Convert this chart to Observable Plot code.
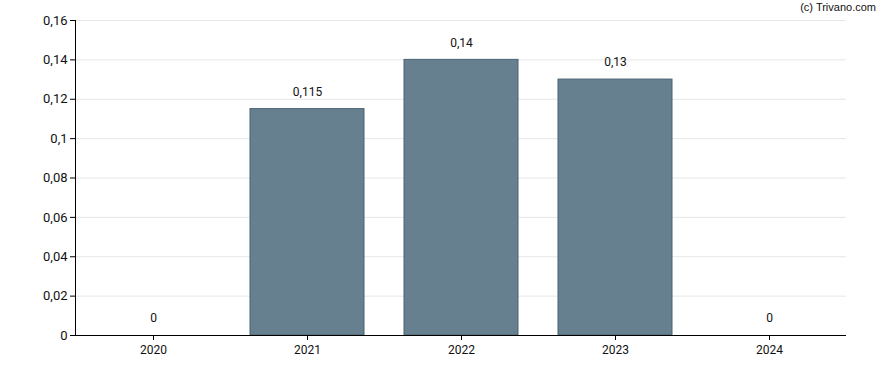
<!DOCTYPE html>
<html>
<head>
<meta charset="utf-8">
<script src="https://cdn.jsdelivr.net/npm/d3@7"></script>
<script src="https://cdn.jsdelivr.net/npm/@observablehq/plot@0.6"></script>
<style>
  html, body { margin: 0; padding: 0; background: #fff; }
  #wrap { position: relative; width: 888px; height: 370px; }
  #credit { position: absolute; right: 12px; top: 1px; font: 11px "Liberation Sans", Arial, sans-serif; color: #111; }
</style>
</head>
<body>
<div id="wrap"><div id="credit">(c) Trivano.com</div></div>
<script>
const years = ["2020", "2021", "2022", "2023", "2024"];
const dividends = [0, 0.115, 0.14, 0.13, 0];
const yTicks = [0, 0.02, 0.04, 0.06, 0.08, 0.1, 0.12, 0.14, 0.16];

const data = years.map((y, i) => ({year: y, value: dividends[i]}));
const fmt = d => String(d).replace(".", ",");

const chart = Plot.plot({
  width: 888,
  height: 370,
  marginLeft: 75,
  marginRight: 42,
  marginTop: 20,
  marginBottom: 35,
  style: {fontFamily: "Roboto, sans-serif", fontSize: "12px", color: "#111", background: "#fff"},
  x: {domain: years, paddingInner: 0.26, paddingOuter: 0.13, label: null},
  y: {domain: [0, 0.16], label: null},
  marks: [
    Plot.gridY(yTicks, {stroke: "#e6e6e6", strokeOpacity: 1}),
    Plot.barY(data, {x: "year", y: "value", fill: "#66808f", stroke: "#4b6373", strokeWidth: 1}),
    Plot.text(data, {x: "year", y: "value", text: d => fmt(d.value), dy: -17, fill: "#111", fontSize: 12}),
    Plot.axisY(yTicks, {tickFormat: fmt, tickSize: 5, tickPadding: 3, fontSize: 13, stroke: "#000", strokeOpacity: 1}),
    Plot.axisX({tickSize: 5, tickPadding: 5, fontSize: 12, stroke: "#000", strokeOpacity: 1}),
    Plot.ruleY([0], {stroke: "#000"}),
    Plot.frame({anchor: "left", stroke: "#000"})
  ]
});
document.getElementById("wrap").prepend(chart);
</script>
</body>
</html>
